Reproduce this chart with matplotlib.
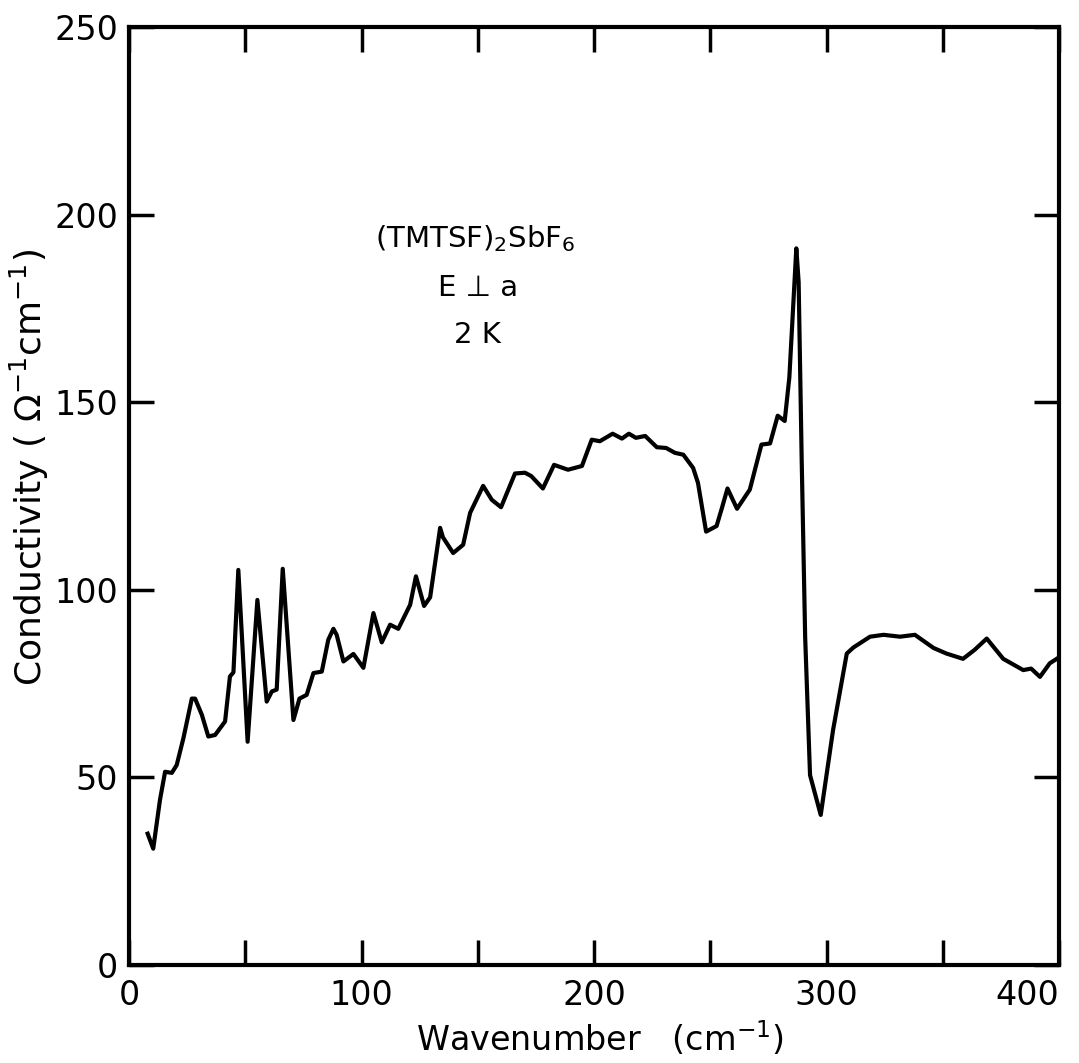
import numpy as np
import matplotlib.pyplot as plt
from matplotlib.ticker import MultipleLocator

# --- data ---
wavenumber = [8, 10.4, 13.3, 15.5, 18.4, 20.5, 23.4, 27, 28.4, 31.3, 34.1, 37, 41.3,
              43.4, 44.9, 47, 51, 55.2, 59.2, 61.4, 63.5, 66.1, 70.7, 73.3, 76.4,
              79.3, 82.9, 85.7, 87.9, 89.3, 92.2, 96.5, 100.8, 105.1, 108.7, 112.3,
              115.8, 120.9, 123.4, 126.9, 129.5, 133.8, 135, 139.4, 143.7, 146.7,
              152.3, 156, 160, 166, 170.3, 173, 178, 182.8, 188.8, 194.8, 199,
              202.5, 208, 212, 215, 218, 222, 227, 231, 234.8, 238.4, 242.6, 244.7,
              248.2, 252.7, 255, 257.4, 261.5, 267, 272, 275.7, 279, 282, 284, 287,
              288, 289.3, 290.8, 292.9, 297.5, 302.8, 308.7, 311.5, 318.7, 324.5,
              331.6, 338, 346, 351.6, 358.7, 363.7, 368.9, 376, 384.6, 388, 391.8,
              396, 400]
conductivity = [35, 31, 44, 51.5, 51.2, 53.3, 60.5, 71, 71, 66.7, 60.9, 61.3, 64.9,
                76.9, 78, 105.3, 59.5, 97.3, 70.2, 72.9, 73.4, 105.6, 65.3, 71, 72,
                77.8, 78.2, 86.7, 89.6, 88, 80.9, 82.9, 79.2, 93.8, 86, 90.7,
                89.6, 96, 103.6, 95.7, 98, 116.5, 114, 109.8, 112, 120.5,
                127.7, 124, 122, 131, 131.2, 130.3, 127, 133.3, 132, 133, 140,
                139.6, 141.6, 140.3, 141.6, 140.5, 141, 138, 137.8, 136.5, 136, 132.5, 128.5,
                115.5, 117, 121.8, 127, 121.6, 126.7, 138.7, 139, 146.4, 145, 156.6, 191,
                182, 135, 87.5, 50.6, 40, 62.6, 83, 84.6, 87.5, 88,
                87.5, 88, 84.5, 83, 81.6, 84, 87, 81.6, 78.6, 79, 76.8,
                80.4, 82]

x_labels = [0, 100, 200, 300, 400]
y_labels = [0, 50, 100, 150, 200, 250]

fig = plt.figure(figsize=(10.79, 10.63), dpi=100)
ax = fig.add_axes([0.1196, 0.0922, 0.8619, 0.8824])

ax.plot(wavenumber, conductivity, color='black', lw=3, solid_joinstyle='round')

ax.set_xlim(0, 400)
ax.set_ylim(0, 250)
ax.set_xticks(x_labels)
ax.set_yticks(y_labels)
ax.xaxis.set_minor_locator(MultipleLocator(50))
ax.tick_params(which='both', direction='in', length=18, width=2.5,
               top=True, right=True, labelsize=24)
ax.tick_params(axis='x', pad=10)
ax.tick_params(axis='y', pad=8)
# keep the last x label inside the figure, as in the scan
ax.get_xticklabels()[-1].set_horizontalalignment('right')
for s in ax.spines.values():
    s.set_linewidth(3)

ax.set_xlabel("Wavenumber   (cm$^{-1}$)", fontsize=24)
ax.xaxis.set_label_coords(0.506, -0.058)
ax.set_ylabel("Conductivity ( \u03a9$^{-1}$cm$^{-1}$)", fontsize=26)
ax.yaxis.set_label_coords(-0.084, 0.53)

# sample labels
ax.text(149, 193.5, "(TMTSF)$_2$SbF$_6$", fontsize=21, ha='center', va='center')
ax.text(150, 180.5, "E \u22a5 a", fontsize=21, ha='center', va='center')
ax.text(150, 168, "2 K", fontsize=21, ha='center', va='center')

fig.savefig("out.png", dpi=100)
